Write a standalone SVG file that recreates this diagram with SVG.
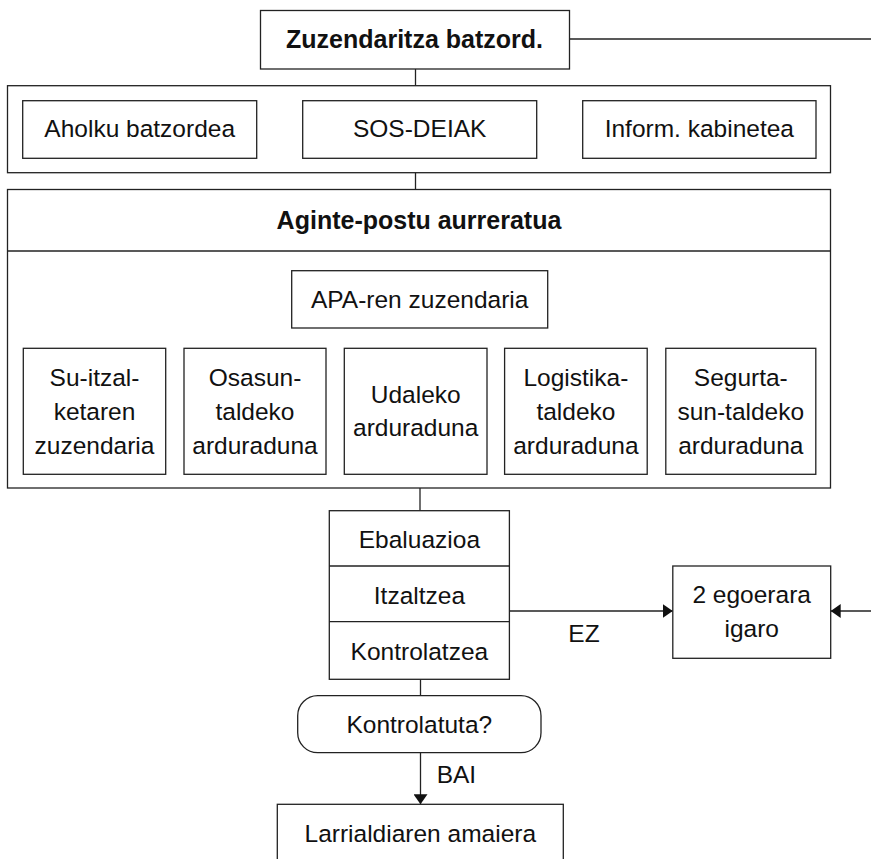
<svg xmlns="http://www.w3.org/2000/svg" width="871" height="859" viewBox="0 0 871 859">
<style>
.bx{fill:#fff;stroke:#222;stroke-width:1.3}
.ln{fill:none;stroke:#222;stroke-width:1.3}
.t{font-family:"Liberation Sans",Arial,Helvetica,sans-serif;font-size:24.5px;fill:#111;text-anchor:middle}
.b{font-family:"Liberation Sans",Arial,Helvetica,sans-serif;font-size:25px;font-weight:bold;fill:#111;text-anchor:middle}
</style>
<defs>
<marker id="ah" markerWidth="11" markerHeight="14" refX="10" refY="7" orient="auto" markerUnits="userSpaceOnUse">
<path d="M0,0 L10,7 L0,14 z" fill="#111"/>
</marker>
</defs>
<rect width="871" height="859" fill="#fff"/>
<g id="connectors">
<line class="ln" x1="569.5" y1="39" x2="871" y2="39"/>
<line class="ln" x1="415.5" y1="69" x2="415.5" y2="85.7"/>
<line class="ln" x1="415.5" y1="172.7" x2="415.5" y2="189.5"/>
<polyline class="ln" points="291.7,300 95,300 95,348.3"/>
<line class="ln" x1="254.5" y1="300" x2="254.5" y2="348.3"/>
<polyline class="ln" points="547.7,300 740.5,300 740.5,348.3"/>
<line class="ln" x1="576" y1="300" x2="576" y2="348.3"/>
<line class="ln" x1="415.7" y1="328" x2="415.7" y2="348.3"/>
<line class="ln" x1="420" y1="488" x2="420" y2="510.7"/>
<line class="ln" x1="509.4" y1="611" x2="672.8" y2="611" marker-end="url(#ah)"/>
<line class="ln" x1="871" y1="611" x2="830.7" y2="611" marker-end="url(#ah)"/>
<line class="ln" x1="420.5" y1="679.3" x2="420.5" y2="695.7"/>
<line class="ln" x1="420.5" y1="752.7" x2="420.5" y2="804.3" marker-end="url(#ah)"/>
<text class="t" x="584" y="641.7">EZ</text>
<text class="t" x="436.7" y="783.3" style="text-anchor:start">BAI</text>
</g>
<g id="zuzendaritza">
<rect class="bx" x="260.5" y="10.5" width="309" height="58.5"/>
<text class="b" x="414.5" y="48">Zuzendaritza batzord.</text>
</g>
<g id="group2">
<rect class="bx" x="7.5" y="85.7" width="823" height="87"/>
</g>
<g id="aholku">
<rect class="bx" x="22.7" y="100.7" width="234" height="57.6"/>
<text class="t" x="139.7" y="137">Aholku batzordea</text>
</g>
<g id="sos">
<rect class="bx" x="302.7" y="100.7" width="234" height="57.6"/>
<text class="t" x="419.7" y="137">SOS-DEIAK</text>
</g>
<g id="inform">
<rect class="bx" x="582.7" y="100.7" width="233.3" height="57.6"/>
<text class="t" x="699.3" y="137">Inform. kabinetea</text>
</g>
<g id="aginte">
<rect class="bx" x="7.5" y="189.5" width="823" height="298.5"/>
<line class="ln" x1="7.5" y1="251" x2="830.5" y2="251"/>
<text class="b" x="419" y="228.5">Aginte-postu aurreratua</text>
</g>
<g id="apa">
<rect class="bx" x="291.7" y="270.7" width="256" height="57.3"/>
<text class="t" x="419.7" y="308.3">APA-ren zuzendaria</text>
</g>
<g id="suitzal">
<rect class="bx" x="23.3" y="348.3" width="142.4" height="126"/>
<text class="t" x="94.5" y="386">Su-itzal-</text>
<text class="t" x="94.5" y="420">ketaren</text>
<text class="t" x="94.5" y="454">zuzendaria</text>
</g>
<g id="osasun">
<rect class="bx" x="184" y="348.3" width="142" height="126"/>
<text class="t" x="255" y="386">Osasun-</text>
<text class="t" x="255" y="420">taldeko</text>
<text class="t" x="255" y="454">arduraduna</text>
</g>
<g id="udaleko">
<rect class="bx" x="344.3" y="348.3" width="142.7" height="126"/>
<text class="t" x="415.7" y="403">Udaleko</text>
<text class="t" x="415.7" y="436">arduraduna</text>
</g>
<g id="logistika">
<rect class="bx" x="504.6" y="348.3" width="142.6" height="126"/>
<text class="t" x="575.9" y="386">Logistika-</text>
<text class="t" x="575.9" y="420">taldeko</text>
<text class="t" x="575.9" y="454">arduraduna</text>
</g>
<g id="segurtasun">
<rect class="bx" x="665.8" y="348.3" width="150" height="126"/>
<text class="t" x="740.8" y="386">Segurta-</text>
<text class="t" x="740.8" y="420">sun-taldeko</text>
<text class="t" x="740.8" y="454">arduraduna</text>
</g>
<g id="prozesua">
<rect class="bx" x="329.3" y="510.7" width="180.1" height="168.6"/>
<line class="ln" x1="329.3" y1="566" x2="509.4" y2="566"/>
<line class="ln" x1="329.3" y1="621.7" x2="509.4" y2="621.7"/>
<text class="t" x="419.4" y="548.3">Ebaluazioa</text>
<text class="t" x="419.4" y="604">Itzaltzea</text>
<text class="t" x="419.4" y="660">Kontrolatzea</text>
</g>
<g id="egoera2">
<rect class="bx" x="672.8" y="566" width="157.9" height="92.3"/>
<text class="t" x="751.7" y="603.3">2 egoerara</text>
<text class="t" x="751.7" y="636.7">igaro</text>
</g>
<g id="kontrolatuta">
<rect class="bx" x="297.7" y="695.7" width="243.3" height="57" rx="20" ry="20"/>
<text class="t" x="419.3" y="733.3">Kontrolatuta?</text>
</g>
<g id="amaiera">
<rect class="bx" x="277.3" y="804.3" width="286" height="70"/>
<text class="t" x="420.3" y="841.7">Larrialdiaren amaiera</text>
</g>
</svg>
